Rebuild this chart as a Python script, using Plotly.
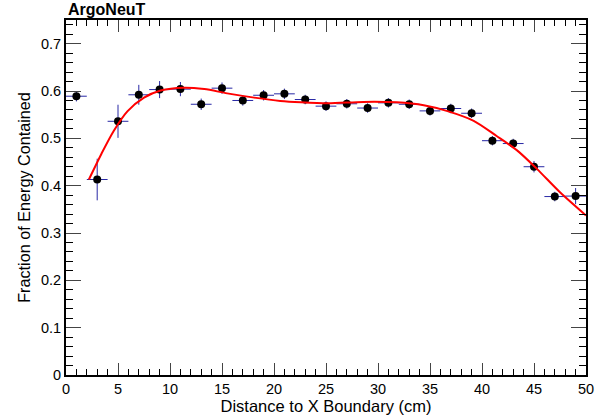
import plotly.graph_objects as go

# Data points (bin centers, values, errors)
x_centers = [1, 3, 5, 7, 9, 11, 13, 15, 17, 19, 21, 23, 25, 27, 29, 31, 33, 35, 37, 39, 41, 43, 45, 47, 49]
x_halfwidth = [1] * 25
y_values = [0.589, 0.413, 0.536, 0.592, 0.603, 0.604, 0.572, 0.606, 0.580, 0.591, 0.594, 0.582,
            0.568, 0.573, 0.564, 0.575, 0.572, 0.558, 0.563, 0.553, 0.495, 0.489, 0.440, 0.377, 0.378]
y_errors = [0.011, 0.044, 0.035, 0.021, 0.018, 0.015, 0.012, 0.012, 0.011, 0.011, 0.011, 0.010,
            0.010, 0.010, 0.010, 0.010, 0.010, 0.010, 0.010, 0.010, 0.010, 0.010, 0.012, 0.010, 0.017]

# Fit curve
fit_x = [2.2, 3.4, 4.6, 5.9, 7.5, 9.1, 11.3, 13.3, 15.5, 18.1, 20.6, 22.6, 25.2, 28.6, 31.8,
         34.4, 36.6, 39.2, 41.4, 43.4, 45.3, 47.5, 50.0]
fit_y = [0.413, 0.467, 0.516, 0.557, 0.586, 0.601, 0.607, 0.604, 0.595, 0.586, 0.579, 0.576,
         0.574, 0.577, 0.576, 0.570, 0.558, 0.537, 0.505, 0.474, 0.435, 0.386, 0.337]

x_ticks = [0, 5, 10, 15, 20, 25, 30, 35, 40, 45, 50]
y_ticks = [0, 0.1, 0.2, 0.3, 0.4, 0.5, 0.6, 0.7]
y_tick_text = ["0", "0.1", "0.2", "0.3", "0.4", "0.5", "0.6", "0.7"]

FONT = "Liberation Sans, Arial, Helvetica, sans-serif"
ERR_COLOR = "rgb(40,40,165)"

fig = go.Figure()
fig.add_trace(go.Scatter(
    x=x_centers, y=y_values, mode="markers",
    marker=dict(color="black", size=8),
    error_x=dict(type="data", array=x_halfwidth, color=ERR_COLOR, thickness=1, width=0),
    error_y=dict(type="data", array=y_errors, color=ERR_COLOR, thickness=1, width=0),
    showlegend=False,
))
fig.add_trace(go.Scatter(
    x=fit_x, y=fit_y, mode="lines",
    line=dict(color="red", width=2, shape="spline", smoothing=0.8),
    showlegend=False,
))

fig.update_layout(
    width=611, height=418,
    margin=dict(l=66, r=25, t=20, b=43),
    paper_bgcolor="white", plot_bgcolor="white",
    font=dict(family=FONT, size=14, color="black"),
    annotations=[dict(text="<b>ArgoNeuT</b>", x=0, y=1, xref="paper", yref="paper",
                      xanchor="left", yanchor="bottom", yshift=0, showarrow=False,
                      font=dict(size=16, family=FONT))],
)
fig.update_xaxes(
    range=[0, 50], tickvals=x_ticks, ticks="inside", ticklen=12, tickwidth=1,
    showline=True, linewidth=2, linecolor="black", mirror="ticks",
    showgrid=False, zeroline=False, automargin=False,
    minor=dict(dtick=1, ticks="inside", ticklen=6, tickcolor="black", showgrid=False),
    title=dict(text="Distance to X Boundary (cm)", font=dict(size=16.5), standoff=1),
    tickfont=dict(size=14.5),
)
fig.update_yaxes(
    range=[0, 0.75], tickvals=y_ticks, ticktext=y_tick_text, ticks="inside", ticklen=15, tickwidth=1,
    showline=True, linewidth=2, linecolor="black", mirror="ticks",
    showgrid=False, zeroline=False, automargin=False,
    minor=dict(dtick=0.02, ticks="inside", ticklen=7, tickcolor="black", showgrid=False),
    title=dict(text="Fraction of Energy Contained", font=dict(size=16.2), standoff=6),
    tickfont=dict(size=14.5),
)

fig.write_html("out.html", config={"displayModeBar": False},
               post_script="document.body.style.margin='0';")
